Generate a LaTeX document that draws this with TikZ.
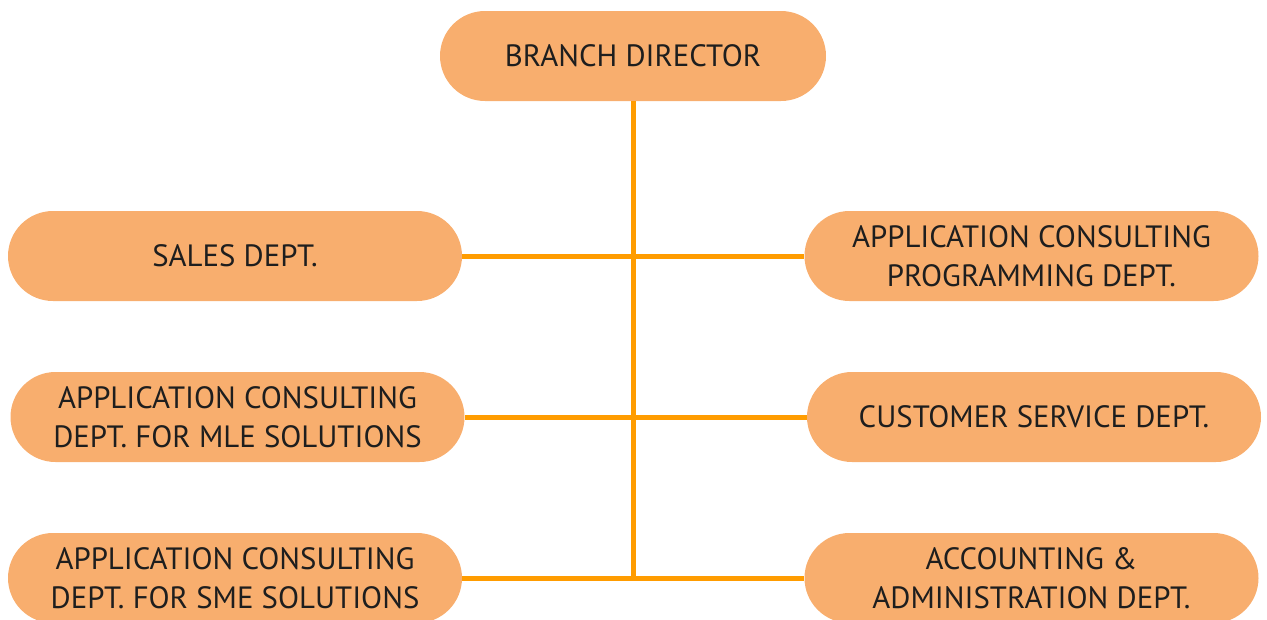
\documentclass[tikz,border=0pt]{standalone}
\usepackage{fontspec}
\setmainfont{PT Sans}
\definecolor{boxfill}{HTML}{F8AE6E}
\definecolor{linecol}{HTML}{FF9C00}
\definecolor{txt}{HTML}{1E1E1E}
\begin{document}
\begin{tikzpicture}[x=1pt,y=-1pt,
  pill/.style={fill=boxfill, draw=none, rounded corners=45pt, minimum height=90pt,
    minimum width=#1, align=center, inner sep=0pt, text=txt,
    font=\fontsize{30.8}{38.5}\selectfont},
  pill/.default=454pt,
  conn/.style={draw=linecol, line width=5pt}]
\useasboundingbox (0,0) rectangle (1267,619);
\clip (0,0) rectangle (1267,619);
\coordinate (j3) at (633,578);
\node[pill=386pt] (dir) at (633,56) {BRANCH DIRECTOR};
\node[pill] (sales) at (235,256) {SALES DEPT.};
\node[pill] (prog) at (1031.5,256) {APPLICATION CONSULTING\\PROGRAMMING DEPT.};
\node[pill] (mle) at (237.5,417) {APPLICATION CONSULTING\\DEPT. FOR MLE SOLUTIONS};
\node[pill] (cust) at (1034,417) {CUSTOMER SERVICE DEPT.};
\node[pill] (sme) at (235,578) {APPLICATION CONSULTING\\DEPT. FOR SME SOLUTIONS};
\node[pill] (acc) at (1031.5,578) {ACCOUNTING \&\\ADMINISTRATION DEPT.};
\draw[conn] (dir.south) -- (j3);
\draw[conn] (sales.east) -- (prog.west);
\draw[conn] (mle.east) -- (cust.west);
\draw[conn] (sme.east) -- (acc.west);
\end{tikzpicture}
\end{document}
